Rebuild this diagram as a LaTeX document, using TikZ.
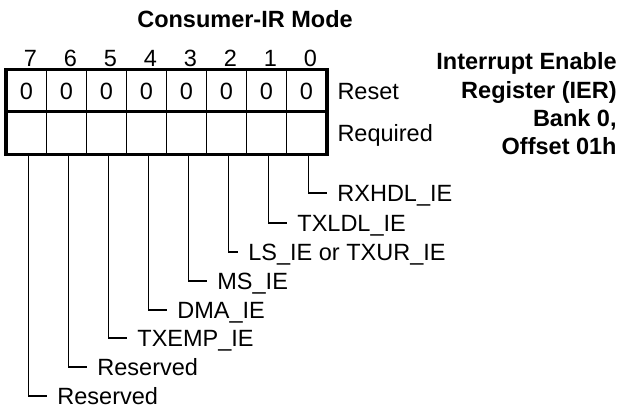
\documentclass[tikz,border=0pt]{standalone}
\usepackage{fontspec}
\setmainfont{Liberation Sans}
\usetikzlibrary{positioning, calc}

\begin{document}
\begin{tikzpicture}[
    x=0.5pt, y=-0.5pt,
    cell/.style={draw, line width=0.6pt, minimum width=20pt, minimum height=21pt, inner sep=0pt,
      font=\fontsize{11.75}{14}\selectfont, text height=8.4pt, text depth=0pt},
    frame/.style={draw, line width=1.75pt},
    bitnum/.style={font=\fontsize{11.75}{14}\selectfont, inner sep=0pt, text height=8.4pt, text depth=0pt},
    rowlab/.style={anchor=west, inner sep=0pt, font=\fontsize{11.75}{14}\selectfont, text height=8.4pt, text depth=0pt},
    lab/.style={anchor=west, inner xsep=5pt, inner ysep=0pt, font=\fontsize{11.75}{14}\selectfont, text height=8.4pt, text depth=0pt},
    conn/.style={draw, line width=0.7pt},
    heading/.style={font=\bfseries\fontsize{11.75}{14.15}\selectfont, inner sep=0pt}
  ]
  \useasboundingbox (0,0) rectangle (619,408);

  % title and register name
  \node[heading] (title) at (245,19) {Consumer-IR Mode};
  \node[heading, anchor=north east, align=right] (regname) at (617,52.5)
    {Interrupt Enable\\Register (IER)\\Bank 0,\\Offset 01h};

  % register cells
  \foreach \b in {7,...,0} {
    \pgfmathsetmacro{\cx}{26.5+40*(7-\b)}
    \node[cell] (r\b) at (\cx,91) {0};
    \node[cell] (q\b) at (\cx,133) {};
    \node[bitnum] (n\b) at (\cx+4,58) {\b};
  }
  \draw[frame] (r7.north west) rectangle (q0.south east);
  \draw[frame] (q7.north west) -- (q0.north east);

  \node[rowlab, right=5pt of r0.east] (reset) {Reset};
  \node[rowlab, right=5pt of q0.east] (req) {Required};

  % bit fields
  \foreach \b/\t/\y/\txt in {7/19/396/Reserved, 6/19/367/Reserved, 5/19/338/TXEMP\_IE,
      4/19/310/DMA\_IE, 3/19/281/MS\_IE, 2/10/252/LS\_IE or TXUR\_IE,
      1/19/223/TXLDL\_IE, 0/19/193/RXHDL\_IE} {
    \pgfmathsetmacro{\lx}{28+40*(7-\b)+\t}
    \node[lab] (l\b) at (\lx,\y) {\txt};
    \draw[conn] ([xshift=1pt]q\b.south) |- (l\b.west);
  }
\end{tikzpicture}
\end{document}
